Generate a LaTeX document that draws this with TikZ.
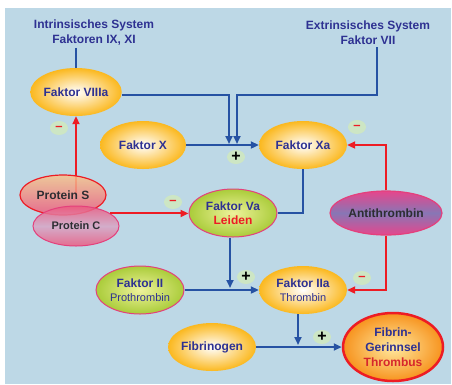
\documentclass[tikz,border=0pt]{standalone}
\usepackage{fontspec}
\setmainfont{Liberation Sans}
\usetikzlibrary{shapes.geometric,arrows.meta,backgrounds}

\definecolor{bgblue}{RGB}{189,216,230}
\definecolor{lineblue}{RGB}{38,82,163}
\definecolor{txtblue}{RGB}{46,49,146}
\definecolor{redline}{RGB}{237,28,36}
\definecolor{thrombred}{RGB}{215,38,44}
\definecolor{darktxt}{RGB}{45,45,50}
\definecolor{gold}{RGB}{251,184,30}
\definecolor{lime}{RGB}{170,204,58}
\definecolor{limelight}{RGB}{238,242,155}
\definecolor{rim}{RGB}{228,64,124}
\definecolor{signgreen}{RGB}{205,230,196}
\definecolor{atpink}{RGB}{230,70,140}
\definecolor{atpurple}{RGB}{136,118,181}
\definecolor{peach}{RGB}{246,196,140}
\definecolor{rose}{RGB}{236,90,128}
\definecolor{lavender}{RGB}{216,166,198}
\definecolor{orng}{RGB}{247,147,30}
\definecolor{cream}{RGB}{255,233,160}

\tikzset{
  factor/.style={ellipse, inner sep=0pt, minimum width=88pt, minimum height=48pt,
    font=\bfseries\fontsize{12}{14}\selectfont, text=txtblue, align=center},
  yellowf/.style={factor, inner color=white, outer color=gold},
  greenf/.style={factor, draw=rim, line width=1pt, inner color=limelight, outer color=lime},
  protein/.style={factor, minimum width=86pt, minimum height=40pt, text=darktxt,
    fill opacity=0.85, text opacity=1},
  sign/.style={ellipse, fill=signgreen, minimum width=18pt, minimum height=14pt, inner sep=0pt,
    font=\bfseries\fontsize{16}{16}\selectfont},
  minussign/.style={sign, text=redline, font=\bfseries\fontsize{13}{13}\selectfont},
  bline/.style={draw=lineblue, line width=2pt},
  rline/.style={draw=redline, line width=2pt},
  heading/.style={font=\bfseries\fontsize{12}{15}\selectfont, text=txtblue, align=center, inner sep=2pt},
}

\begin{document}
\begin{tikzpicture}[x=1pt, y=-1pt, >={Triangle[length=8pt,width=7pt]}]
    \useasboundingbox (0,0) rectangle (452,384);

    % the two starting systems
    \node[heading] (Intr) at (94,33) {Intrinsisches System\\Faktoren IX, XI};
    \node[heading] (Extr) at (368,33) {Extrinsisches System\\Faktor VII};

    % the factors
    \node[yellowf] (VIIIa) at (76,92) {Faktor VIIIa};
    \node[yellowf, minimum width=86pt] (X) at (143,145) {Faktor X};
    \node[yellowf] (Xa) at (303,145) {Faktor Xa};
    \node[greenf] (Va) at (233,213) {Faktor Va\\\textcolor{redline}{Leiden}};
    \node[greenf] (II) at (140,290) {Faktor II\\{\mdseries\fontsize{11}{13}\selectfont Prothrombin}};
    \node[yellowf] (IIa) at (303,290) {Faktor IIa\\{\mdseries\fontsize{11}{13}\selectfont Thrombin}};
    \node[yellowf] (Fibrinogen) at (212,347) {Fibrinogen};
    \node[factor, draw=redline, line width=2.5pt, inner color=cream, outer color=orng,
          minimum width=100pt, minimum height=68pt, font=\bfseries\fontsize{12}{15}\selectfont]
          (Fibrin) at (393,347) {Fibrin-\\Gerinnsel\\\textcolor{thrombred}{Thrombus}};

    % the inhibitors
    \node[factor, draw=rim, line width=1.2pt, top color=atpink, bottom color=atpink,
          middle color=atpurple, minimum width=112pt, minimum height=44pt, text=darktxt]
          (AT) at (386,213) {Antithrombin};
    \node[protein, draw=redline, line width=1.2pt, top color=peach, bottom color=rose] (ProtS) at (63,195) {Protein S};
    \node[protein, draw=rim, line width=1pt, top color=rose, bottom color=rose, middle color=lavender,
          font=\bfseries\fontsize{11}{13}\selectfont] (ProtC) at (76,226) {Protein C};

    % the plus and minus signs
    \node[minussign] (m1) at (59,128) {--};
    \node[minussign] (m2) at (357,127) {--};
    \node[minussign] (m3) at (173,202) {--};
    \node[minussign] (m4) at (362,278) {--};
    \node[sign] (p1) at (236,157) {+};
    \node[sign] (p2) at (246,277) {+};
    \node[sign] (p3) at (322,337) {+};

    % bend and end points of the connectors
    \coordinate (eb) at (377,95);
    \coordinate (ea) at (237,144);
    \coordinate (va) at (229,144);
    \coordinate (vc) at (230,288);
    \coordinate (fc) at (298,345);

    % background and the red line behind protein S
    \begin{pgfonlayer}{background}
      \fill[bgblue] (5,8) rectangle (451,384);
      \draw[rline,->] (ProtS.center -| VIIIa.south) -- (VIIIa.south);
    \end{pgfonlayer}

    % blue connectors
    \draw[bline] (Intr.south -| VIIIa.north) -- (VIIIa.north);
    \draw[bline,->] (Extr.south -| eb) -- (eb) -| (ea);
    \draw[bline,->] ([yshift=-3pt]VIIIa.east) -| (va);
    \draw[bline,->] (X) -- (Xa);
    \draw[bline] (Xa) |- (Va);
    \draw[bline,->] (Va.south -| vc) -- (vc);
    \draw[bline,->] (II) -- (IIa);
    \draw[bline,->] (IIa.south -| fc) -- (fc);
    \draw[bline,->] (Fibrinogen) -- (Fibrin);

    % red connectors
    \draw[rline,->] (ProtC.20) -- (ProtC.20 -| Va.west);
    \draw[rline,->] (AT) |- (Xa);
    \draw[rline,->] (AT) |- (IIa);
\end{tikzpicture}
\end{document}
